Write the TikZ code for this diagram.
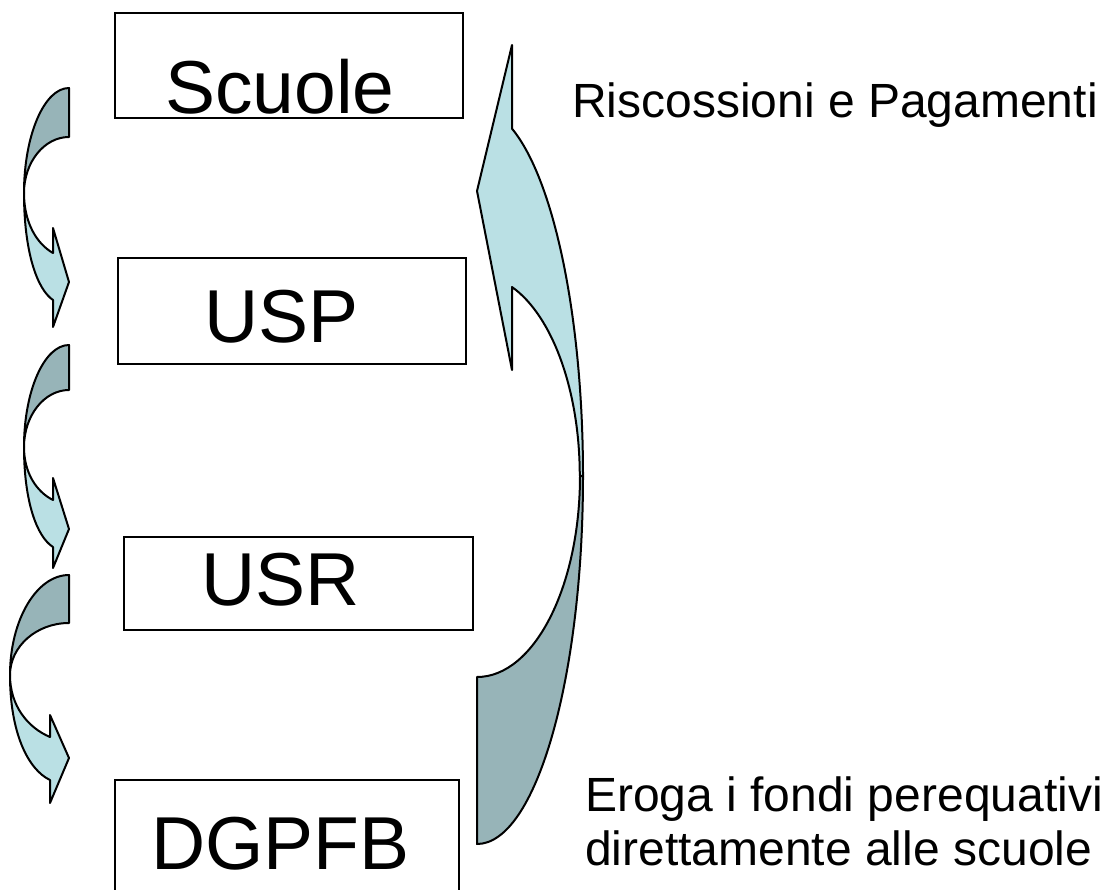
\documentclass[tikz,border=0pt]{standalone}
\usepackage{fontspec}
\setmainfont{Liberation Sans}
\definecolor{darkteal}{HTML}{97B4B8}
\definecolor{lightteal}{HTML}{BAE0E4}
\tikzset{
	frame/.style={draw, line width=1.8pt, inner sep=0pt},
	lab/.style={inner sep=0pt, font=\fontsize{75pt}{90pt}\selectfont},
	note/.style={inner sep=0pt, font=\fontsize{48pt}{54pt}\selectfont},
	backpart/.style={draw, line width=2pt, fill=darkteal, line join=round},
	frontpart/.style={draw, line width=2pt, fill=lightteal, line join=round}
}
\begin{document}
\begin{tikzpicture}[x=1pt, y=-1pt]
	\useasboundingbox (0,0) rectangle (1119,889);
	
	% Kaesten mit Beschriftung
	\foreach \name/\txt/\xa/\ya/\xb/\yb/\xt/\yt in {scuole/Scuole/114/12/462/117/165/113, usp/USP/117/257/465/363/204/342, usr/USR/123/536/472/629/201/605, dgpfb/DGPFB/114/779/458/905/151/869} {
		\node[frame, anchor=north west, minimum width={(\xb-\xa)*1pt}, minimum height={(\yb-\ya)*1pt}] (\name) at (\xa,\ya) {};
		\node[lab, anchor=base west] (\name-txt) at (\xt,\yt) {\txt};
	}
	
	% Kleine Pfeile links
	\foreach \ya/\yb/\yc/\yd/\ye/\yf/\yg/\yh/\xl/\xb in {88/137/193/228/253/282/300/327/24/53, 345/390/447/478/500/529/547/568/24/53, 575/623/675/715/737/758/780/803/10/50} {
		\draw[backpart] (69,\ya) .. controls ({69-0.55*(69-\xl)},\ya) and (\xl,{\yc-0.55*(\yc-\ya)}) .. (\xl,\yc) .. controls (\xl,{\yc-0.55*(\yc-\yb)}) and ({69-0.55*(69-\xl)},\yb) .. (69,\yb) -- cycle;
		\draw[frontpart] (\xl,\yc) .. controls (\xl,{\yc+0.5*(\ye-\yc)}) and ({\xl+0.45*(\xb-\xl)},{\ye-0.15*(\ye-\yc)}) .. (\xb,\ye) -- (\xb,\yd) -- (69,\yf) -- (\xb,\yh) -- (\xb,\yg) .. controls ({\xb-0.55*(\xb-\xl)},{\yg-0.1*(\yg-\yc)}) and (\xl,{\yc+0.55*(\yg-\yc)}) .. (\xl,\yc) -- cycle;
	}
	
	% Grosser Pfeil rechts
	\draw[backpart] (583,476) arc[start angle=0, end angle=90, x radius=106, y radius=368] -- (477,677) arc[start angle=90, end angle=0, x radius=103, y radius=201] -- cycle;
	\draw[frontpart] (512,45) -- (477,191) -- (512,370) -- (512,287) arc[start angle=-70, end angle=0, x radius=103, y radius=201] -- (583,476) arc[start angle=0, end angle=-70.7, x radius=106, y radius=368] -- cycle;
	
	% Texte rechts
	\node[note, anchor=base west] (riscossioni) at (572,117) {Riscossioni e Pagamenti};
	\node[note, anchor=base west] (eroga) at (585,811) {Eroga i fondi perequativi};
	\node[note, anchor=base west] (direttamente) at ([yshift=-54pt]eroga.base west) {direttamente alle scuole};
\end{tikzpicture}
\end{document}
